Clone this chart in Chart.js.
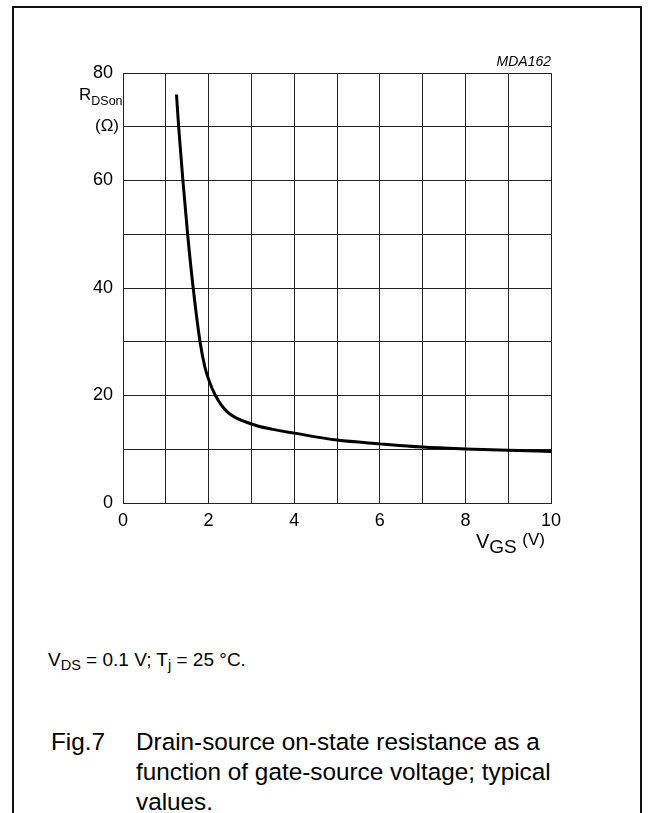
<!DOCTYPE html>
<html>
<head>
<meta charset="utf-8">
<script src="https://cdn.jsdelivr.net/npm/chart.js@4.4.0/dist/chart.umd.min.js"></script>
<style>
    html, body { margin: 0; padding: 0; background: #fff; }
    body { width: 655px; height: 813px; position: relative; overflow: hidden;
           font-family: "Liberation Sans", Arial, sans-serif; color: #000; }
    .frame { position: absolute; left: 12px; top: 6px; width: 630px; height: 820px;
             border: 2px solid #111; box-sizing: border-box; }
    .chart-box { position: absolute; left: 0; top: 0; width: 655px; height: 560px; }
    .txt { position: absolute; white-space: nowrap; }
    .code { right: 104px; top: 53px; font-size: 14px; font-style: italic; }
    .ylab { left: 79px; top: 85px; font-size: 17px; line-height: 20px; }
    .ylab sub { font-size: 12.5px; vertical-align: -5px; }
    .ylab2 { left: 95px; top: 116px; font-size: 17px; line-height: 20px; }
    .xlab { left: 476px; top: 529px; font-size: 20px; line-height: 22px; }
    .xlab sub { font-size: 19px; vertical-align: -5px; }
    .xlab sup { font-size: 17px; vertical-align: 3px; }
    .cond { left: 48px; top: 649px; font-size: 19px; line-height: 22px; }
    .cond sub { font-size: 14.5px; vertical-align: -4px; }
    .fig { left: 51px; top: 727px; font-size: 24.3px; line-height: 30px; }
    .cap { left: 136px; top: 727px; font-size: 24.3px; line-height: 30px; }
</style>
</head>
<body>
<div class="frame"></div>
<div class="chart-box"><canvas id="rdsChart"></canvas></div>
<div class="txt code">MDA162</div>
<div class="txt ylab">R<sub>DSon</sub></div>
<div class="txt ylab2">(Ω)</div>
<div class="txt xlab">V<sub>GS</sub> <sup>(V)</sup></div>
<div class="txt cond">V<sub>DS</sub> = 0.1 V; T<sub>j</sub> = 25 °C.</div>
<div class="txt fig">Fig.7</div>
<div class="txt cap">Drain-source on-state resistance as a<br>function of gate-source voltage; typical<br>values.</div>
<script>
    // values
    const vgs = [1.25, 1.30, 1.40, 1.51, 1.64, 1.80, 1.91, 2.0, 2.16, 2.43, 3.0, 3.5, 4, 5, 6, 7, 8, 9, 10];
    const rdson = [76, 70, 60, 50, 40, 30, 25.4, 23, 20, 17, 14.7, 13.7, 13.0, 11.7, 11.0, 10.4, 10.05, 9.8, 9.6];
    const xTicks = [0, 2, 4, 6, 8, 10];
    const yTicks = [0, 20, 40, 60, 80];

    const gridStyle = { color: '#222', lineWidth: 1, drawTicks: false };
    const tickFont = { family: '"Liberation Sans", Arial, sans-serif', size: 18 };

    new Chart(document.getElementById('rdsChart'), {
        type: 'line',
        data: {
            datasets: [{
                data: vgs.map((v, i) => ({ x: v, y: rdson[i] })),
                borderColor: '#000',
                borderWidth: 3,
                pointRadius: 0,
                cubicInterpolationMode: 'monotone',
                fill: false
            }]
        },
        options: {
            responsive: true,
            maintainAspectRatio: false,
            animation: false,
            layout: { padding: { left: 0, top: 73, right: 104, bottom: 0 } },
            plugins: { legend: { display: false }, tooltip: { enabled: false } },
            scales: {
                x: {
                    type: 'linear',
                    min: 0,
                    max: 10,
                    grid: gridStyle,
                    border: { color: '#222', width: 1 },
                    ticks: {
                        stepSize: 1,
                        autoSkip: false,
                        maxRotation: 0,
                        padding: 7,
                        color: '#000',
                        font: tickFont,
                        callback: v => xTicks.includes(v) ? String(v) : ''
                    },
                    afterFit: s => { s.height = 57; }
                },
                y: {
                    min: 0,
                    max: 80,
                    grid: gridStyle,
                    border: { color: '#222', width: 1 },
                    ticks: {
                        stepSize: 10,
                        autoSkip: false,
                        padding: 10,
                        color: '#000',
                        font: tickFont,
                        callback: v => yTicks.includes(v) ? String(v) : ''
                    },
                    afterFit: s => { s.width = 123; }
                }
            }
        }
    });
</script>
</body>
</html>
